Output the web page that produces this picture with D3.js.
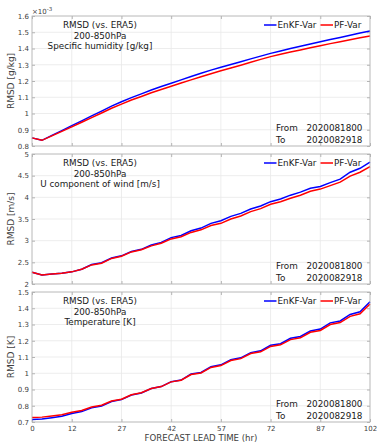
<!DOCTYPE html>
<html>
<head>
<meta charset="utf-8">
<script src="https://cdn.jsdelivr.net/npm/d3@7"></script>
<style>
  body { margin: 0; background: #fff; }
  text { font-family: "DejaVu Sans", sans-serif; }
</style>
</head>
<body>
<div id="chart"></div>
<script>
// forecast lead time (hr)
const leadTime = [0, 3, 6, 9, 12, 15, 18, 21, 24, 27, 30, 33, 36, 39, 42, 45, 48, 51,
                  54, 57, 60, 63, 66, 69, 72, 75, 78, 81, 84, 87, 90, 93, 96, 99, 102]
const xTicks = [0, 12, 27, 42, 57, 72, 87, 102]

// specific humidity RMSD (x 1e-3 g/kg)
const humEnkf = [0.850, 0.835, 0.865, 0.895, 0.925, 0.955, 0.985, 1.015, 1.045, 1.072, 1.098, 1.121,
                 1.145, 1.166, 1.186, 1.207, 1.228, 1.248, 1.267, 1.285, 1.302, 1.319, 1.336, 1.353,
                 1.370, 1.385, 1.400, 1.414, 1.428, 1.442, 1.455, 1.468, 1.482, 1.495, 1.508]
const humPf   = [0.850, 0.835, 0.862, 0.890, 0.918, 0.946, 0.975, 1.003, 1.032, 1.058, 1.083, 1.105,
                 1.128, 1.148, 1.168, 1.188, 1.207, 1.226, 1.245, 1.263, 1.280, 1.297, 1.315, 1.333,
                 1.350, 1.364, 1.378, 1.391, 1.404, 1.417, 1.430, 1.442, 1.454, 1.466, 1.477]

// U wind RMSD (m/s)
const windEnkf = [2.27, 2.21, 2.23, 2.25, 2.28, 2.34, 2.45, 2.49, 2.60, 2.65, 2.75, 2.80,
                  2.90, 2.96, 3.07, 3.12, 3.23, 3.29, 3.40, 3.46, 3.56, 3.63, 3.73, 3.80,
                  3.90, 3.96, 4.05, 4.12, 4.21, 4.25, 4.34, 4.42, 4.58, 4.67, 4.81]
const windPf   = [2.27, 2.21, 2.23, 2.25, 2.28, 2.34, 2.44, 2.48, 2.59, 2.64, 2.74, 2.79,
                  2.88, 2.94, 3.04, 3.09, 3.19, 3.25, 3.35, 3.40, 3.50, 3.57, 3.67, 3.74,
                  3.84, 3.90, 3.98, 4.05, 4.14, 4.19, 4.27, 4.35, 4.49, 4.58, 4.71]

// temperature RMSD (K)
const tempEnkf = [0.715, 0.718, 0.726, 0.735, 0.752, 0.764, 0.787, 0.799, 0.826, 0.838, 0.866, 0.879,
                  0.906, 0.918, 0.948, 0.958, 0.995, 1.005, 1.040, 1.052, 1.083, 1.095, 1.127, 1.138,
                  1.172, 1.182, 1.215, 1.226, 1.260, 1.272, 1.310, 1.322, 1.362, 1.378, 1.440]
const tempPf   = [0.727, 0.730, 0.737, 0.745, 0.760, 0.771, 0.792, 0.803, 0.829, 0.840, 0.868, 0.880,
                  0.906, 0.918, 0.947, 0.957, 0.992, 1.002, 1.036, 1.047, 1.078, 1.090, 1.121, 1.132,
                  1.165, 1.175, 1.207, 1.218, 1.252, 1.263, 1.300, 1.312, 1.350, 1.366, 1.426]

const humTicks  = [0.8, 0.9, 1, 1.1, 1.2, 1.3, 1.4, 1.5, 1.6]
const windTicks = [2, 2.5, 3, 3.5, 4, 4.5, 5]
const tempTicks = [0.7, 0.8, 0.9, 1, 1.1, 1.2, 1.3, 1.4, 1.5]

const seriesNames = ['EnKF-Var', 'PF-Var']
const seriesColors = ['#0000ff', '#ff0000']
const fromDate = '2020081800', toDate = '2020082918'

const panels = [
  {variable: 'Specific humidity [g/kg]', ylabel: 'RMSD [g/kg]', ticks: humTicks,  enkf: humEnkf,  pf: humPf},
  {variable: 'U component of wind [m/s]', ylabel: 'RMSD [m/s]', ticks: windTicks, enkf: windEnkf, pf: windPf},
  {variable: 'Temperature [K]',          ylabel: 'RMSD [K]',   ticks: tempTicks, enkf: tempEnkf, pf: tempPf}
]

var W = 377, H = 444
var left = 32, right = 370, ph = 130
var tops = [16, 154, 292]
var axisCol = '#b4b4b4', gridCol = '#e8e8e8', txtCol = '#404040'

var svg = d3.select('#chart').append('svg').attr('width', W).attr('height', H)

var x = d3.scaleLinear().domain([0, 102]).range([0, right - left])

panels.forEach(function(p, i) {
  var g = svg.append('g').attr('transform', 'translate(' + left + ',' + tops[i] + ')')
  var y = d3.scaleLinear().domain(d3.extent(p.ticks)).range([ph, 0])
  var w = right - left

  // grid
  g.selectAll('.gx').data(xTicks).enter().append('line')
    .attr('x1', d => x(d)).attr('x2', d => x(d)).attr('y1', 0).attr('y2', ph)
    .attr('stroke', gridCol).attr('stroke-width', 0.8)
  g.selectAll('.gy').data(p.ticks).enter().append('line')
    .attr('x1', 0).attr('x2', w).attr('y1', d => y(d)).attr('y2', d => y(d))
    .attr('stroke', gridCol).attr('stroke-width', 0.8)

  // axes (ticks inside like matlab)
  var ax = [
    g.append('g').call(d3.axisLeft(y).tickValues(p.ticks).tickSize(-3).tickPadding(3).tickFormat(d3.format('~g'))),
    g.append('g').attr('transform', 'translate(' + w + ',0)').call(d3.axisRight(y).tickValues(p.ticks).tickSize(-3).tickFormat('')),
    g.append('g').call(d3.axisTop(x).tickValues(xTicks).tickSize(-3).tickFormat('')),
    g.append('g').attr('transform', 'translate(0,' + ph + ')').call(d3.axisBottom(x).tickValues(xTicks).tickSize(-3).tickPadding(4)
      .tickFormat(i == 2 ? d3.format('d') : ''))
  ]
  ax.forEach(function(a) {
    a.select('.domain').remove()
    a.selectAll('line').attr('stroke', axisCol)
    a.selectAll('text').attr('fill', txtCol).style('font-size', '7px').style('font-family', '"DejaVu Sans", sans-serif')
  })

  // lines
  var line = d3.line().x((d, k) => x(leadTime[k])).y(d => y(d))
  ;[p.enkf, p.pf].forEach(function(s, k) {
    g.append('path').datum(s)
      .attr('fill', 'none').attr('stroke', seriesColors[k]).attr('stroke-width', 1.5)
      .attr('d', line)
  })

  g.append('rect').attr('width', w).attr('height', ph)
    .attr('fill', 'none').attr('stroke', axisCol).attr('stroke-width', 0.8)

  // annotation
  var ann = ['RMSD (vs. ERA5)', '200-850hPa', p.variable]
  ann.forEach(function(t, k) {
    g.append('text').attr('x', 100 - left).attr('y', 12 + k * 10.5)
      .attr('text-anchor', 'middle').attr('fill', '#1a1a1a').style('font-size', '8.8px').text(t)
  })

  // legend
  var leg = g.append('g').attr('transform', 'translate(0,9)')
  var lx = [264 - left, 320.5 - left]
  seriesNames.forEach(function(n, k) {
    leg.append('line').attr('x1', lx[k]).attr('x2', lx[k] + 12.5).attr('y1', 0).attr('y2', 0)
      .attr('stroke', seriesColors[k]).attr('stroke-width', 1.5)
    leg.append('text').attr('x', lx[k] + 13.5).attr('y', 3.2).attr('fill', '#1a1a1a')
      .style('font-size', '8.8px').text(n)
  })

  // period
  ;[['From', fromDate], ['To', toDate]].forEach(function(r, k) {
    g.append('text').attr('x', 276 - left).attr('y', ph - 15.5 + k * 12.6).attr('fill', '#1a1a1a')
      .style('font-size', '8.8px').text(r[0])
    g.append('text').attr('x', 306.5 - left).attr('y', ph - 15.5 + k * 12.6).attr('fill', '#1a1a1a')
      .style('font-size', '8.8px').text(r[1])
  })

  // y label
  g.append('text').attr('transform', 'translate(' + (14 - left) + ',' + (ph / 2) + ') rotate(-90)')
    .attr('text-anchor', 'middle').attr('fill', txtCol).style('font-size', '9px').text(p.ylabel)
})

// exponent label
var ex = svg.append('text').attr('x', left).attr('y', 14).attr('fill', txtCol).style('font-size', '7px')
ex.append('tspan').text('\u00d710')
ex.append('tspan').attr('dy', -3).style('font-size', '5.5px').text('-3')

// x label
svg.append('text').attr('x', (left + right) / 2).attr('y', 441).attr('text-anchor', 'middle')
  .attr('fill', txtCol).style('font-size', '8.6px').text('FORECAST LEAD TIME (hr)')
</script>
</body>
</html>
